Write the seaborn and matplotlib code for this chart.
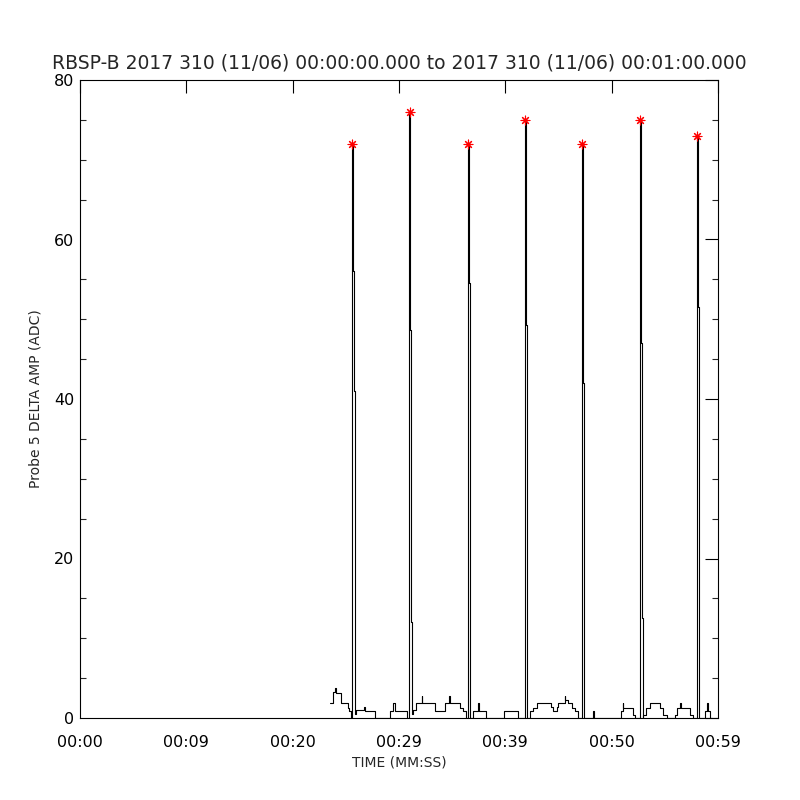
import numpy as np
import pandas as pd
import matplotlib
matplotlib.use('Agg')
import matplotlib.pyplot as plt
from matplotlib.ticker import MultipleLocator
import seaborn as sns

# trace samples (seconds, ADC), held until next sample
trace_t = [23.51, 23.79, 23.98, 24.08, 24.50, 25.20, 25.34, 25.49,
           25.58, 25.67, 25.77, 25.86, 25.96, 26.71, 26.80, 27.74,
           29.15, 29.44, 29.62, 30.75,
           30.94, 31.03, 31.13, 31.19, 31.32, 31.60, 32.12, 32.21,
           33.34, 34.28, 34.73, 34.80, 35.74, 35.99, 36.30,
           36.49, 36.58, 36.66, 36.72, 36.99, 37.43, 37.52, 38.18,
           39.87, 41.22,
           41.85, 41.94, 42.04, 42.32, 42.63, 42.95, 44.29, 44.45,
           44.83, 44.98, 45.58, 45.64, 45.89, 46.24, 46.55, 46.86,
           47.21, 47.30, 47.38, 47.44, 48.24, 48.31,
           50.88, 51.02, 51.07, 52.01, 52.19,
           52.66, 52.76, 52.83, 52.90, 52.97, 53.23, 53.61, 54.55,
           54.86, 55.17, 55.96, 56.12, 56.43, 56.49, 57.37, 57.62,
           58.02, 58.12, 58.19, 58.26, 58.78, 58.96, 59.03, 59.25, 59.44]
trace_v = [1.85, 3.3, 3.8, 3.1, 1.85, 1.3, 0.9, 0.0,
           72.0, 56.0, 41.0, 0.5, 1.0, 1.4, 0.9, 0.0,
           0.9, 1.85, 0.9, 0.0,
           76.0, 48.6, 12.0, 0.45, 1.0, 1.85, 2.8, 1.85,
           0.9, 1.85, 2.8, 1.85, 1.25, 0.9, 0.0,
           72.0, 54.5, 18.5, 0.0, 0.9, 1.85, 0.9, 0.0,
           0.9, 0.0,
           75.0, 49.3, 0.0, 0.9, 1.25, 1.85, 1.4, 0.9,
           1.4, 1.85, 2.8, 2.3, 1.85, 1.25, 0.9, 0.0,
           72.0, 42.0, 16.3, 0.0, 0.9, 0.0,
           0.9, 1.85, 1.25, 0.4, 0.0,
           75.0, 47.0, 12.5, 0.0, 0.4, 1.25, 1.85, 1.25,
           0.4, 0.0, 0.4, 1.25, 1.85, 1.25, 0.4, 0.0,
           73.0, 51.5, 43.6, 0.0, 0.9, 1.85, 0.9, 0.0, 0.0]

# detected peaks
peak_t = [25.58, 31.03, 36.49, 41.85, 47.21, 52.66, 58.02]
peak_v = [72.0, 76.0, 72.0, 75.0, 72.0, 75.0, 73.0]

xtick_pos = [0, 10, 20, 30, 40, 50, 60]
xtick_labels = ['00:00', '00:09', '00:20', '00:29', '00:39', '00:50', '00:59']

title = ('RBSP-B 2017 310 (11/06) 00:00:00.000 to '
         '2017 310 (11/06) 00:01:00.000')

sns.set_style('white')
plt.rcParams['font.family'] = ['DejaVu Sans']

df = pd.DataFrame({'t': trace_t, 'v': trace_v})
df_peaks = pd.DataFrame({'t': peak_t, 'v': peak_v})

fig = plt.figure(figsize=(8, 8), dpi=100)
ax = fig.add_axes([0.1, 0.1025, 0.7975, 0.7975])

sns.lineplot(data=df, x='t', y='v', ax=ax, color='black', lw=0.8,
             drawstyle='steps-post', estimator=None, sort=False)
sns.scatterplot(data=df_peaks, x='t', y='v', ax=ax, marker=(8, 2, 0),
                color='red', s=40, linewidth=0.8, zorder=5)

ax.set_xlim(0, 60)
ax.set_ylim(0, 80)
ax.set_xticks(xtick_pos)
ax.set_xticklabels(xtick_labels)
ax.yaxis.set_major_locator(MultipleLocator(20))
ax.yaxis.set_minor_locator(MultipleLocator(5))

ax.tick_params(axis='both', which='major', direction='in', length=9.5,
               width=0.8, top=True, right=True, labelsize=11.5,
               colors='black')
ax.tick_params(axis='y', which='minor', direction='in', length=4.5,
               width=0.8, left=True, right=True)
ax.tick_params(axis='x', which='major', pad=12)
ax.tick_params(axis='y', which='major', pad=4)

for s in ax.spines.values():
    s.set_color('black')
    s.set_linewidth(0.8)

ax.set_xlabel('TIME (MM:SS)', fontsize=10)
ax.set_ylabel('Probe 5 DELTA AMP (ADC)', fontsize=10, labelpad=8)
ax.set_title(title, fontsize=13.5, pad=8)

fig.savefig('out.png', dpi=100, facecolor='white')
